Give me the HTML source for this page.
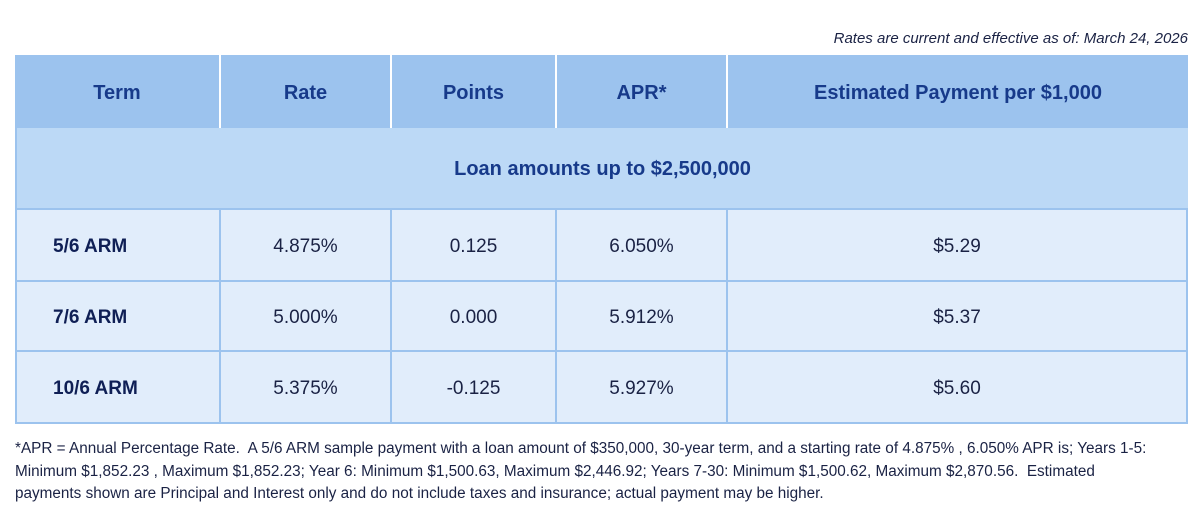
<!DOCTYPE html>
<html><head><meta charset="utf-8"><style>
body{margin:0;width:1200px;height:514px;background:#fff;font-family:"Liberation Sans",sans-serif;position:relative;overflow:hidden}
.c{position:absolute;display:flex;align-items:center;justify-content:center;box-sizing:border-box;padding-top:3px}
.h{background:#9cc3ee;color:#173a8a;font-weight:bold;font-size:20px;border-right:2px solid #fff}
.d{background:#e1edfb;color:#1a2244;font-size:19px;border-right:2px solid #9cc3ee;border-bottom:2px solid #9cc3ee}
.t{font-weight:bold;justify-content:flex-start;padding-left:36px;color:#0f1f55}
#note{position:absolute;right:12px;top:30px;font-style:italic;font-size:15px;color:#1a2244}
#foot{position:absolute;left:15px;top:438px;width:1150px;font-size:15.3px;line-height:22.5px;color:#1a2244}
</style></head><body>
<div id="note">Rates are current and effective as of: March 24, 2026</div>
<div>
<div class="c h" style="left:15px;top:55px;width:206px;height:73px">Term</div>
<div class="c h" style="left:221px;top:55px;width:171px;height:73px">Rate</div>
<div class="c h" style="left:392px;top:55px;width:165px;height:73px">Points</div>
<div class="c h" style="left:557px;top:55px;width:171px;height:73px">APR*</div>
<div class="c h" style="left:728px;top:55px;width:460px;height:73px;border-right:none">Estimated Payment per $1,000</div>
<div class="c" style="left:15px;top:128px;width:1173px;height:82px;background:#bcd9f6;color:#173a8a;font-weight:bold;font-size:20px;border-left:2px solid #9cc3ee;border-bottom:2px solid #9cc3ee">Loan amounts up to $2,500,000</div>
</div>
<div id="rows"></div>
<div id="foot">*APR = Annual Percentage Rate.&nbsp; A 5/6 ARM sample payment with a loan amount of $350,000, 30-year term, and a starting rate of 4.875% , 6.050% APR is; Years 1-5: Minimum $1,852.23 , Maximum $1,852.23; Year 6: Minimum $1,500.63, Maximum $2,446.92; Years 7-30: Minimum $1,500.62, Maximum $2,870.56.&nbsp; Estimated payments shown are Principal and Interest only and do not include taxes and insurance; actual payment may be higher.</div>
<script>
const terms=["5/6 ARM","7/6 ARM","10/6 ARM"];
const rates=["4.875%","5.000%","5.375%"];
const points=["0.125","0.000","-0.125"];
const aprs=["6.050%","5.912%","5.927%"];
const payments=["$5.29","$5.37","$5.60"];
const cols=[[15,206],[221,171],[392,165],[557,171],[728,460]];
const tops=[210,282,352];const hs=[72,70,72];
const host=document.getElementById('rows');
const names=["term","rate","points","apr","payment"];
terms.forEach((t,i)=>{
 const vals=[t,rates[i],points[i],aprs[i],payments[i]];
 vals.forEach((v,j)=>{
  const el=document.createElement('div');
  el.className='c d'+(j===0?' t':'');
  el.style.cssText=`left:${cols[j][0]}px;top:${tops[i]}px;width:${cols[j][1]}px;height:${hs[i]}px;`+(j===0?'border-left:2px solid #9cc3ee;':'');
  el.textContent=v;
  
  
  host.appendChild(el);
 });
});
</script>
</body></html>
